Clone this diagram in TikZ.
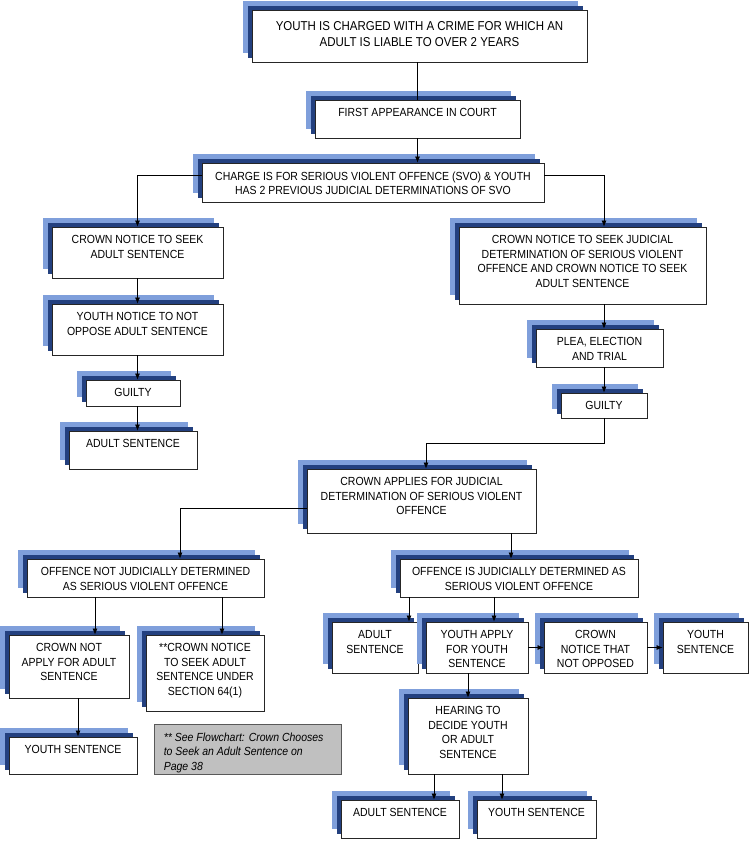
\documentclass[tikz,border=0pt]{standalone}
\usepackage{fontspec}
\setmainfont{Liberation Sans}
\usepackage{xcolor}
\usepackage{tikz}
\usetikzlibrary{arrows.meta,shadows}

\definecolor{shadelight}{HTML}{7F9FDB}
\definecolor{shadedark}{HTML}{23407F}
\definecolor{notegray}{HTML}{C0C0C0}

\begin{document}
\begin{tikzpicture}[
  x=1pt, y=-1pt,
  font=\fontsize{10.5}{13}\selectfont,
  proc/.style={rectangle, draw=black!85, fill=white, line width=0.8pt, inner sep=0pt,
    general shadow={fill=shadelight, shadow xshift=-9pt, shadow yshift=9pt},
    general shadow={fill=shadedark, shadow xshift=-4.5pt, shadow yshift=4.5pt}},
  sz/.style 2 args={minimum width=#1pt, minimum height=#2pt},
  txt/.style={anchor=north, yshift=-8.8pt, inner sep=0pt, align=center, yscale=1.12},
  note/.style={rectangle, draw=black!65, fill=notegray, line width=0.8pt, inner sep=0pt},
  ln/.style={line width=0.7pt},
  arr/.style={-{Latex[length=6pt,width=5pt]}, line width=0.7pt}
]
\useasboundingbox (0,0) rectangle (750,841);

% Charge and first appearance
\node[proc, sz={335}{52}, label={[txt, yshift=-2.5pt, font=\fontsize{11.5}{14.5}\selectfont]north:{YOUTH IS CHARGED WITH A CRIME FOR WHICH AN\\ADULT IS LIABLE TO OVER 2 YEARS}}] (charged) at (419.5,36) {};
\node[proc, sz={205}{38}, label={[txt]north:{FIRST APPEARANCE IN COURT}}] (first) at (417.5,119) {};
\node[proc, sz={342}{39}, label={[txt]north:{CHARGE IS FOR SERIOUS VIOLENT OFFENCE (SVO) \& YOUTH\\HAS 2 PREVIOUS JUDICIAL DETERMINATIONS OF SVO}}] (charge) at (373,182.5) {};

% Left branch
\node[proc, sz={171}{51}, label={[txt]north:{CROWN NOTICE TO SEEK\\ADULT SENTENCE}}] (crownAdult) at (137.5,252.5) {};
\node[proc, sz={171}{51}, label={[txt]north:{YOUTH NOTICE TO NOT\\OPPOSE ADULT SENTENCE}}] (noOppose) at (137.5,329.5) {};
\node[proc, sz={94}{26}, label={[txt]north:{GUILTY}}] (guiltyL) at (133,393) {};
\node[proc, sz={128}{38}, label={[txt]north:{ADULT SENTENCE}}] (adultL) at (133,450) {};

% Right branch
\node[proc, sz={247}{77}, label={[txt]north:{CROWN NOTICE TO SEEK JUDICIAL\\DETERMINATION OF SERIOUS VIOLENT\\OFFENCE AND CROWN NOTICE TO SEEK\\ADULT SENTENCE}}] (crownSvo) at (582.5,265.5) {};
\node[proc, sz={127}{38}, label={[txt]north:{PLEA, ELECTION\\AND TRIAL}}] (plea) at (599.5,348) {};
\node[proc, sz={86}{25}, label={[txt]north:{GUILTY}}] (guiltyR) at (604,405.5) {};
\node[proc, sz={229}{64}, label={[txt]north:{CROWN APPLIES FOR JUDICIAL\\DETERMINATION OF SERIOUS VIOLENT\\OFFENCE}}] (applies) at (421.5,501) {};

% Not determined as SVO
\node[proc, sz={237}{38}, label={[txt]north:{OFFENCE NOT JUDICIALLY DETERMINED\\AS SERIOUS VIOLENT OFFENCE}}] (notSvo) at (145.5,578) {};
\node[proc, sz={120}{63}, label={[txt]north:{CROWN NOT\\APPLY FOR ADULT\\SENTENCE}}] (crownNot) at (69,666.5) {};
\node[proc, sz={118}{76}, label={[txt]north:{**CROWN NOTICE\\TO SEEK ADULT\\SENTENCE UNDER\\SECTION 64(1)}}] (crownSec) at (205,673) {};
\node[proc, sz={128}{37}, label={[txt]north:{YOUTH SENTENCE}}] (youthL) at (73,755.5) {};
\node[note, sz={187}{50}, label={[txt, anchor=north west, xshift=10pt, align=left, font=\fontsize{10.5}{13}\selectfont\itshape]north west:{** See Flowchart: Crown Chooses\\to Seek an Adult Sentence on\\Page 38}}] (seeNote) at (247.5,749) {};

% Determined as SVO
\node[proc, sz={238}{38}, label={[txt]north:{OFFENCE IS JUDICIALLY DETERMINED AS\\SERIOUS VIOLENT OFFENCE}}] (isSvo) at (519,578) {};
\node[proc, sz={86}{51}, label={[txt]north:{ADULT\\SENTENCE}}] (adultM) at (375,647.5) {};
\node[proc, sz={102}{51}, label={[txt]north:{YOUTH APPLY\\FOR YOUTH\\SENTENCE}}] (youthApply) at (477,647.5) {};
\node[proc, sz={103}{51}, label={[txt]north:{CROWN\\NOTICE THAT\\NOT OPPOSED}}] (notOpposed) at (595.5,647.5) {};
\node[proc, sz={85}{51}, label={[txt]north:{YOUTH\\SENTENCE}}] (youthR) at (705.5,647.5) {};
\node[proc, sz={120}{76}, label={[txt]north:{HEARING TO\\DECIDE YOUTH\\OR ADULT\\SENTENCE}}] (hearing) at (468,736) {};
\node[proc, sz={118}{38}, label={[txt]north:{ADULT SENTENCE}}] (adultB) at (400,819) {};
\node[proc, sz={119}{38}, label={[txt]north:{YOUTH SENTENCE}}] (youthB) at (536.5,819) {};

% Connections
\draw[ln] (first.north |- charged.south) -- (first.north);
\draw[arr] (first.south) -- (first.south |- charge.north);
\draw[arr] ([yshift=7pt]charge.west) -| (crownAdult.north);
\draw[arr] ([yshift=7pt]charge.east) -| (guiltyR.north |- crownSvo.north);

\draw[arr] (crownAdult) -- (noOppose);
\draw[arr] (noOppose.south) -- (noOppose.south |- guiltyL.north);
\draw[arr] (noOppose.south |- guiltyL.south) -- (noOppose.south |- adultL.north);

\draw[arr] (guiltyR.north |- crownSvo.south) -- (guiltyR.north |- plea.north);
\draw[arr] (guiltyR.north |- plea.south) -- (guiltyR.north);
\draw[arr] (guiltyR.south) -- ++(0,25) -| ([xshift=4.5pt]applies.north);

\draw[arr] ([yshift=-7pt]applies.west) -| ([xshift=34.5pt]notSvo.north);
\draw[arr] ([xshift=-8pt]isSvo.north |- applies.south) -- ([xshift=-8pt]isSvo.north);

\draw[arr] ([xshift=26pt]crownNot.north |- notSvo.south) -- ([xshift=26pt]crownNot.north);
\draw[arr] ([xshift=17pt]crownSec.north |- notSvo.south) -- ([xshift=17pt]crownSec.north);
\draw[arr] ([xshift=5pt]youthL.north |- crownNot.south) -- ([xshift=5pt]youthL.north);

\draw[arr] ([xshift=34pt]adultM.north |- isSvo.south) -- ([xshift=34pt]adultM.north);
\draw[arr] ([xshift=17pt]youthApply.north |- isSvo.south) -- ([xshift=17pt]youthApply.north);
\draw[arr] (youthApply) -- (notOpposed);
\draw[arr] (notOpposed) -- (youthR);
\draw[arr] (hearing.north |- youthApply.south) -- (hearing.north);
\draw[arr] ([xshift=34pt]adultB.north |- hearing.south) -- ([xshift=34pt]adultB.north);
\draw[arr] ([xshift=-34.5pt]youthB.north |- hearing.south) -- ([xshift=-34.5pt]youthB.north);

\end{tikzpicture}
\end{document}
